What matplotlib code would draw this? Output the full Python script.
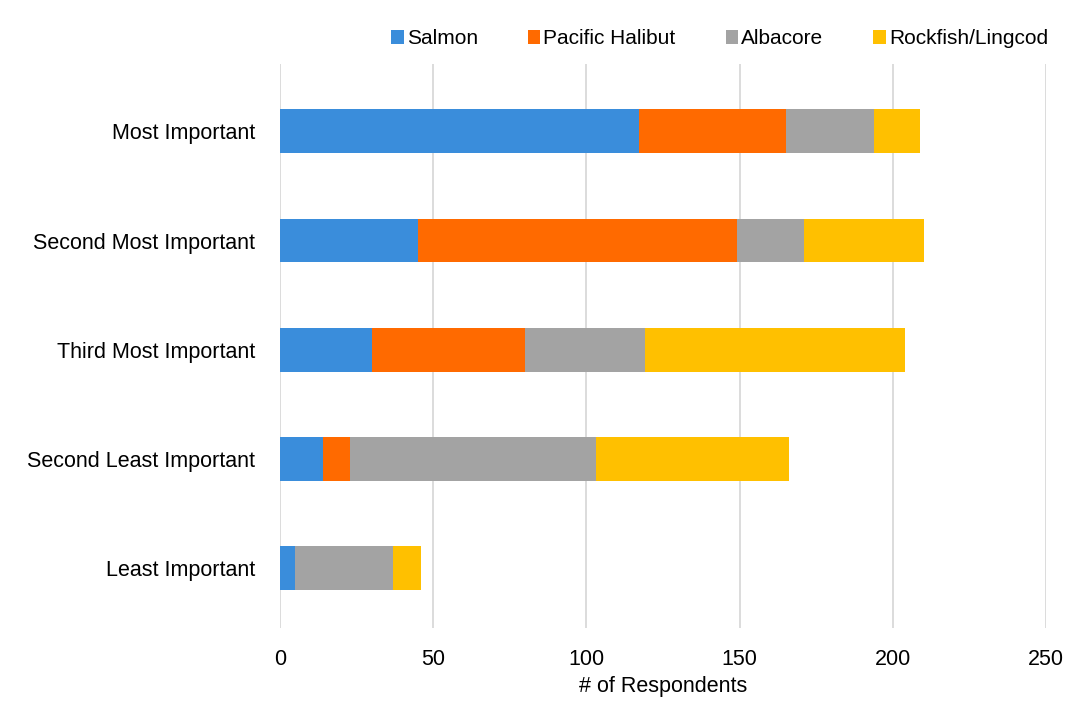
import matplotlib.pyplot as plt
import numpy as np

plt.rcParams['font.family'] = ['Liberation Sans', 'DejaVu Sans']

categories = ['Most Important', 'Second Most Important', 'Third Most Important',
              'Second Least Important', 'Least Important']
species = ['Salmon', 'Pacific Halibut', 'Albacore', 'Rockfish/Lingcod']
salmon = [117, 45, 30, 14, 5]
halibut = [48, 104, 50, 9, 0]
albacore = [29, 22, 39, 80, 32]
rockfish = [15, 39, 85, 63, 9]
colors = ['#3a8ddb', '#ff6a00', '#a3a3a3', '#ffc000']

fig = plt.figure(figsize=(10.67, 7.06), dpi=100)
ax = fig.add_axes([0.2624, 0.11, 0.718, 0.80])

y = np.arange(len(categories))
left = np.zeros(len(categories))
for name, vals, c in zip(species, [salmon, halibut, albacore, rockfish], colors):
    ax.barh(y, vals, height=0.40, left=left, color=c, label=name, zorder=3)
    left += np.array(vals)

ax.set_yticks(y)
ax.set_yticklabels(categories, fontsize=15.5)
ax.set_ylim(4.55, -0.62)
ax.set_xlim(0, 250)
ax.set_xticks([0, 50, 100, 150, 200, 250])
ax.tick_params(axis='x', labelsize=15.5, length=0, pad=15)
ax.tick_params(axis='y', length=0, pad=18)
ax.grid(axis='x', color='#d6d6d6', linewidth=1.2, zorder=0)
for s in ax.spines.values():
    s.set_visible(False)
ax.set_xlabel('# of Respondents', fontsize=15.5, labelpad=4)

fig.legend(loc='upper right', bbox_to_anchor=(1.0, 0.985), ncol=4, frameon=False,
           fontsize=15, handlelength=0.6, handleheight=0.6, handletextpad=0.15,
           columnspacing=2.4)

plt.savefig('out.png', dpi=100)
